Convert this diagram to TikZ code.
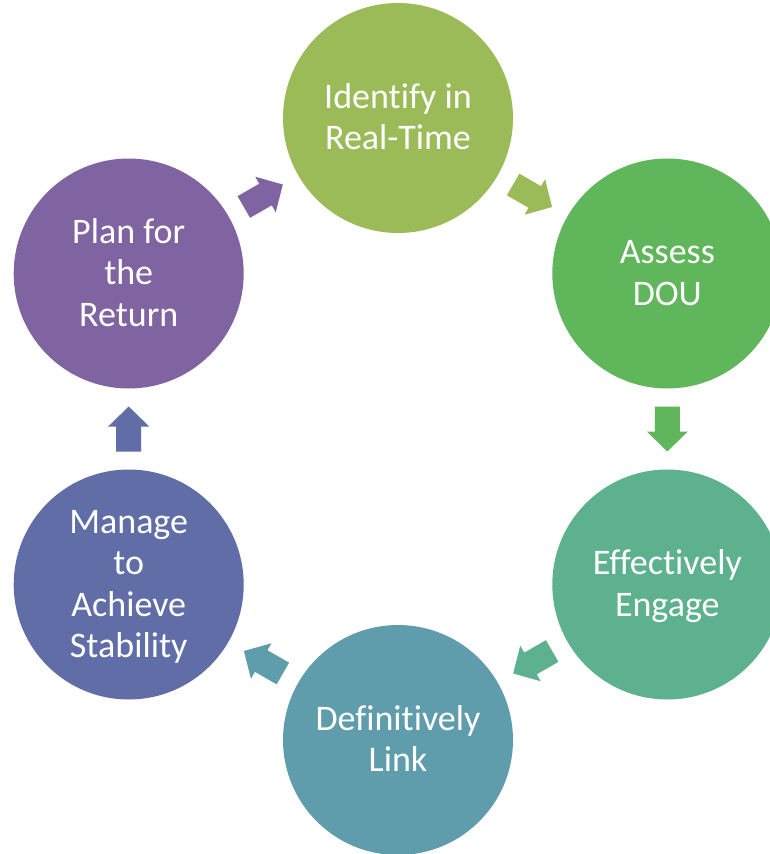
\documentclass[tikz,border=0pt]{standalone}
\usepackage{fontspec}
\setmainfont{Carlito}[Ligatures={NoCommon,NoContextual}]
\usetikzlibrary{decorations.markings}

% stage colours, running from olive green round to purple
\definecolor{stageA}{HTML}{9BBB59}
\definecolor{stageB}{HTML}{60B65B}
\definecolor{stageC}{HTML}{5DB18E}
\definecolor{stageD}{HTML}{5F9DAC}
\definecolor{stageE}{HTML}{616DA7}
\definecolor{stageF}{HTML}{8064A2}

% fixed height/depth for every text line, so each label is centred the same way
\newcommand\linestrut{\rule[-12pt]{0pt}{46pt}}

\tikzset{
  stage/.style={circle, minimum size=230pt, inner sep=0pt, fill=#1,
    text=white, align=center, font=\fontsize{36}{41.5}\selectfont},
  flow/.style={postaction={decorate}, decoration={markings,
    mark=at position 0.5 with {\fill[#1] (-22.5,-12.5) -- (2.5,-12.5) -- (2.5,-20.5)
      -- (22.5,0) -- (2.5,20.5) -- (2.5,12.5) -- (-22.5,12.5) -- cycle;}}}
}

\begin{document}
% keep the baseline spacing fixed even where line struts overlap
\setlength{\lineskiplimit}{-100pt}
\begin{tikzpicture}[x=1pt, y=-1pt]
  \fill[white] (0,0) rectangle (770,854);
  \useasboundingbox (0,0) rectangle (770,854);

  \node[stage=stageA] (identify) at (398,118)     {\linestrut Identify in\\\linestrut Real-Time};
  \node[stage=stageB] (assess)   at (667.3,273.5) {\linestrut Assess\\\linestrut DOU};
  \node[stage=stageC] (engage)   at (667.3,584.5) {\linestrut Effectively\\\linestrut Engage};
  \node[stage=stageD] (link)     at (398,740)     {\linestrut Definitively\\\linestrut Link};
  \node[stage=stageE] (manage)   at (128.7,584.5) {\linestrut Manage\\\linestrut to\\\linestrut Achieve\\\linestrut Stability};
  \node[stage=stageF] (plan)     at (128.7,273.5) {\linestrut Plan for\\\linestrut the\\\linestrut Return};

  \path[flow=stageA] (identify) -- (assess);
  \path[flow=stageB] (assess)   -- (engage);
  \path[flow=stageC] (engage)   -- (link);
  \path[flow=stageD] (link)     -- (manage);
  \path[flow=stageE] (manage)   -- (plan);
  \path[flow=stageF] (plan)     -- (identify);
\end{tikzpicture}
\end{document}
